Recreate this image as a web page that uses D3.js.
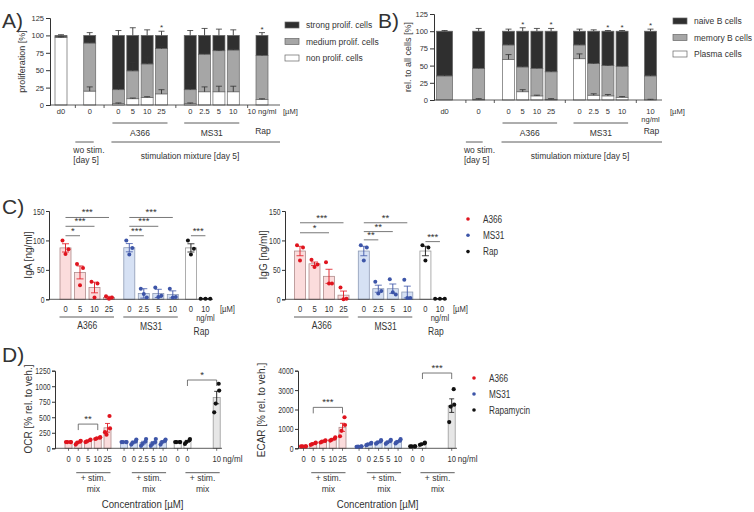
<!DOCTYPE html>
<html><head><meta charset="utf-8">
<script src="https://cdn.jsdelivr.net/npm/d3@7"></script>
<style>
body{margin:0;background:#fff}
svg{font-family:"Liberation Sans",Arial,sans-serif}
text{fill:#333}
</style></head><body><div id="fig"></div><script>
const width = 754, height = 512;
const ink = "#333";

// A) proliferation [%], stacked: non / medium / strong
const prolifCats = ["d0","0","0","5","10","25","0","2.5","5","10","10 ng/ml"];
const prolifNon    = [97, 20,  2,  9, 11, 16,  2, 19, 19, 19,  8];
const prolifMedium = [ 1, 69, 20, 40, 48, 65, 20, 54, 59, 60, 63];
const prolifStrong = [ 2, 11, 78, 51, 41, 19, 78, 27, 22, 21, 29];
const prolifNonErr    = [1, 6, 1, 1, 1, 6, 1, 7, 8, 8, 1];
const prolifMediumErr = [0, 3, 7, 12, 10, 3, 7, 2, 1, 2, 5];
const prolifStrongErr = [1, 4, 7, 11, 8, 6, 7, 10, 9, 8, 4];
const prolifStars = ["", "", "", "", "", "*", "", "", "", "", "*"];

// B) rel. to all cells [%], stacked: plasma / memory / naive
const bcellCats = ["d0","0","0","5","10","25","0","2.5","5","10","10"];
const bcellPlasma = [ 0,  1, 59, 12,  6,  1, 60,  7,  6,  4,  0];
const bcellMemory = [35, 45, 21, 36, 40, 40, 20, 46, 44, 45, 35];
const bcellNaive  = [65, 54, 20, 52, 54, 59, 20, 47, 50, 51, 65];
const bcellPlasmaErr = [0, 1, 7, 3, 1, 1, 7, 2, 2, 1, 1];
const bcellMemoryErr = [2, 5, 4, 3, 5, 3, 4, 1, 1, 1, 2];
const bcellNaiveErr  = [1, 4, 3, 5, 4, 4, 3, 2, 1, 1, 3];
const bcellStars = ["", "", "", "*", "", "*", "", "", "*", "*", "*"];

// C) ELISA, 3 donors each
const elisaCats  = ["0","5","10","25","0","2.5","5","10","0","10"];
const elisaGroup = ["A366","A366","A366","A366","MS31","MS31","MS31","MS31","Rap","Rap"];
const igaPoints = [[100,85,77],[60,53,24],[30,27,3],[5,3,1],[100,87,76],[18,3,9],[20,6,4],[18,4,3],[100,86,76],[1,1,1]];
const igaSem    = [7, 11, 9, 2, 7, 8, 7, 6, 7, 0.5];
const iggPoints = [[92,88,66],[67,59,55],[63,27,27],[20,1,0],[92,88,66],[30,14,10],[34,8,12],[33,2,2],[92,88,66],[1,1,1]];
const iggSem    = [8, 3, 12, 7, 8, 6, 8, 10, 8, 0.3];
const igaSig = [[0,1,"*",108],[0,2,"***",124],[0,3,"***",139],[4,5,"***",108],[4,6,"***",124],[4,7,"***",139],[8,9,"***",108]];
const iggSig = [[0,2,"*",113],[0,3,"***",130],[4,5,"**",101],[4,6,"**",115],[4,7,"**",130],[8,9,"***",98]];

// D) Seahorse, 4 donors each
const seaCats  = ["0","0","5","10","25","0","0","2.5","5","10","0","0","10"];
const seaGroup = ["A366","A366","A366","A366","A366","MS31","MS31","MS31","MS31","MS31","Rap","Rap","Rap"];
const ocrPoints = [[100,100,100,100],[60,110,90,120],[100,130,110,140],[150,170,160,180],[260,520,220,320],
                   [100,100,100,100],[60,110,90,140],[40,110,70,150],[40,100,70,150],[60,120,100,140],
                   [100,100,100,100],[70,130,100,150],[580,1040,720,930]];
const ocrSem  = [3, 15, 10, 8, 70, 3, 15, 20, 20, 15, 3, 15, 100];
const ecarPoints = [[100,100,100,100],[180,260,220,300],[300,380,340,410],[400,500,440,560],[620,1600,900,1200],
                    [80,90,90,100],[160,240,200,280],[240,360,300,420],[230,380,300,430],[250,400,320,470],
                    [100,100,100,100],[180,250,210,290],[1350,3050,2150,2250]];
const ecarSem = [5, 25, 25, 35, 210, 5, 25, 40, 45, 45, 5, 25, 350];
const ocrSig  = [[1,3,"**",390],[11,12,"*",1100]];
const ecarSig = [[1,4,"***",2110],[11,12,"***",3880]];

const groupColor = {A366: "#e0141e", MS31: "#3d55a8", Rap: "#111"};
const groupFill  = {A366: "#fbdcdc", MS31: "#d6e1f4", Rap: "#ffffff"};
const groupEdge  = {A366: "#b08c8c", MS31: "#8d9ab5", Rap: "#999"};

const svg = d3.select("#fig").append("svg").attr("width", width).attr("height", height);

function txt(g, x, y, s, size, anchor) {
  return g.append("text").attr("x", x).attr("y", y).attr("font-size", size)
    .attr("text-anchor", anchor || "middle").text(s);
}
// the C/D panels of the figure are squeezed sideways, so squeeze some text too
function condense(sel, k) {
  sel.each(function () {
    const w = this.getComputedTextLength();
    d3.select(this).attr("textLength", w * k).attr("lengthAdjust", "spacingAndGlyphs");
  });
}
function hline(g, x1, x2, y, col) {
  g.append("line").attr("x1", x1).attr("x2", x2).attr("y1", y).attr("y2", y)
    .attr("stroke", col || ink).attr("stroke-width", 0.8);
}
function yAxis(g, y, x, ticks, size, tick, k) {
  const ax = g.append("g").attr("transform", `translate(${x},0)`)
    .call(d3.axisLeft(y).tickValues(ticks).tickSize(tick || 4).tickPadding(tick ? 1.5 : 2).tickFormat(d3.format("d")));
  ax.selectAll("path,line").attr("stroke", ink);
  ax.selectAll("text").attr("font-size", size).attr("fill", ink).attr("font-family", null);
  if (k) condense(ax.selectAll("text"), k);
}
function yLabel(g, x, y, s, size) {
  g.append("text").attr("transform", `translate(${x},${y}) rotate(-90)`)
    .attr("font-size", size).attr("text-anchor", "middle").text(s);
}

// ---------- stacked bar panels (A, B) ----------
function stackedPanel(cfg) {
  const g = svg.append("g");
  const rows = cfg.cats.map((c, i) => {
    const r = {i: i};
    cfg.keys.forEach((k, j) => r[k] = cfg.values[j][i]);
    return r;
  });
  const series = d3.stack().keys(cfg.keys)(rows);
  const x = d3.scaleLinear().domain(cfg.slotDomain).range(cfg.xRange);
  const y = d3.scaleLinear().domain([0, 125]).range(cfg.yRange);
  const bw = i => (cfg.wide && cfg.wide.includes(i)) ? 16 : 12;

  series.forEach((s, j) => {
    g.selectAll(null).data(s).join("rect")
      .attr("x", d => x(cfg.slots[d.data.i]) - bw(d.data.i) / 2)
      .attr("width", d => bw(d.data.i))
      .attr("y", d => y(d[1]))
      .attr("height", d => y(d[0]) - y(d[1]))
      .attr("fill", cfg.fills[j]).attr("stroke", "#666").attr("stroke-width", 0.7);
  });
  series.forEach((s, j) => {
    s.forEach(d => {
      const e = cfg.errs[j][d.data.i];
      if (!e) return;
      const cx = x(cfg.slots[d.data.i]);
      g.append("line").attr("x1", cx).attr("x2", cx).attr("y1", y(d[1])).attr("y2", y(d[1] + e))
        .attr("stroke", ink).attr("stroke-width", 0.9);
      hline(g, cx - 3, cx + 3, y(d[1] + e));
    });
  });
  const last = series[series.length - 1];
  last.forEach(d => {
    const st = cfg.stars[d.data.i];
    if (st) txt(g, x(cfg.slots[d.data.i]), y(d[1] + cfg.errs[cfg.keys.length - 1][d.data.i]) - 1, st, 8);
  });

  yAxis(g, y, cfg.axisX, [0, 25, 50, 75, 100, 125], 7.5);
  hline(g, cfg.axisX, cfg.axisEnd, y(0));
  cfg.seps.forEach(s => g.append("line").attr("x1", x(s)).attr("x2", x(s))
    .attr("y1", y(0)).attr("y2", y(0) + 3).attr("stroke", ink).attr("stroke-width", 0.8));
  cfg.cats.forEach((c, i) => {
    if (cfg.twoLine && i === cfg.cats.length - 1) {
      txt(g, x(cfg.slots[i]), 114, c, 7.5);
      txt(g, x(cfg.slots[i]), 122, "ng/ml", 7.5);
    } else txt(g, x(cfg.slots[i]), 114, c, 7.5);
  });
  txt(g, cfg.umX, 114, "[µM]", 7.5, "start");
  // group labels
  hline(g, x(cfg.slots[2]) - 6, x(cfg.slots[5]) + 6, 123);
  hline(g, x(cfg.slots[6]) - 6, x(cfg.slots[9]) + 6, 123);
  txt(g, (x(cfg.slots[2]) + x(cfg.slots[5])) / 2, 136, "A366", 8.5);
  txt(g, (x(cfg.slots[6]) + x(cfg.slots[9])) / 2, 136, "MS31", 8.5);
  txt(g, x(cfg.slots[10]) + 1, 134, "Rap", 8.5);
  hline(g, x(cfg.seps[0]), x(cfg.slots[1]) + 4, 142);
  hline(g, x(cfg.slots[2]) - 7, cfg.axisEnd, 142);
  txt(g, x(cfg.seps[0]) - 2, 153, "wo stim.", 8.5, "start");
  txt(g, x(cfg.seps[0]) - 2, 163, "[day 5]", 8.5, "start");
  txt(g, cfg.stimX, 159, "stimulation mixture [day 5]", 8.5);

  yLabel(g, cfg.labX, (cfg.yRange[0] + cfg.yRange[1]) / 2, cfg.ylab, 9);
  cfg.legend.forEach((l, k) => {
    const ly = cfg.legY + k * 16.5;
    g.append("rect").attr("x", cfg.legX).attr("y", ly - 3).attr("width", 14).attr("height", 6)
      .attr("fill", l[1]).attr("stroke", "#666").attr("stroke-width", 0.7);
    txt(g, cfg.legX + 21, ly + 3, l[0], 8.5, "start");
  });
  txt(g, cfg.tagX, 28, cfg.tag, 21, "start").attr("fill", "#111");
}

stackedPanel({
  cats: prolifCats, keys: ["non", "medium", "strong"],
  values: [prolifNon, prolifMedium, prolifStrong],
  errs: [prolifNonErr, prolifMediumErr, prolifStrongErr],
  stars: prolifStars, fills: ["#fff", "#a6a6a6", "#2f2f2f"],
  slots: [0, 2, 4, 5, 6, 7, 9, 10, 11, 12, 14], slotDomain: [0, 14], xRange: [61, 262],
  yRange: [105, 18], axisX: 50, axisEnd: 280, seps: [1, 3, 8, 13], umX: 283, stimX: 190,
  labX: 25, ylab: "proliferation [%]", legX: 285, legY: 25,
  legend: [["strong prolif. cells", "#2f2f2f"], ["medium prolif. cells", "#a6a6a6"], ["non prolif. cells", "#fff"]],
  tag: "A)", tagX: 2
});
stackedPanel({
  cats: bcellCats, keys: ["plasma", "memory", "naive"],
  values: [bcellPlasma, bcellMemory, bcellNaive],
  errs: [bcellPlasmaErr, bcellMemoryErr, bcellNaiveErr],
  stars: bcellStars, fills: ["#fff", "#a6a6a6", "#2f2f2f"], wide: [0], twoLine: true,
  slots: [0, 2.4, 4.5, 5.5, 6.5, 7.5, 9.5, 10.5, 11.5, 12.5, 14.5], slotDomain: [4.5, 14.5], xRange: [508.5, 650.5],
  yRange: [100, 14], axisX: 434, axisEnd: 662, seps: [1.5, 3.5, 8.5, 13.5], umX: 670, stimX: 580,
  labX: 411, ylab: "rel. to all cells [%]", legX: 673, legY: 21,
  legend: [["naive B cells", "#2f2f2f"], ["memory B cells", "#a6a6a6"], ["Plasma cells", "#fff"]],
  tag: "B)", tagX: 378
});

// ---------- dot + bar panels (C, D) ----------
function dotBarPanel(cfg) {
  const g = svg.append("g");
  const x = d3.scaleLinear().domain([0, 1]).range([cfg.x0, cfg.x0 + cfg.step]);
  const y = d3.scaleLinear().domain(cfg.yDomain).range(cfg.yRange);
  const means = cfg.points.map(p => d3.mean(p));
  const n = cfg.points[0].length;
  const offs = n === 3 ? [-3, 3, 0] : [-2.5, 2, -1, 2.5];

  means.forEach((m, i) => {
    const cx = x(cfg.slots[i]), grp = cfg.groups[i];
    g.append("rect").attr("x", cx - cfg.barW / 2).attr("width", cfg.barW)
      .attr("y", y(m)).attr("height", y(0) - y(m))
      .attr("fill", cfg.greyLast && i === means.length - 1 ? "#e6e6e6" : groupFill[grp])
      .attr("stroke", groupEdge[grp]).attr("stroke-width", 0.8);
  });
  yAxis(g, y, cfg.axisX, cfg.ticks, cfg.fs, 3, 0.72);
  hline(g, cfg.axisX, cfg.axisEnd, y(0));
  if (cfg.xTicks) cfg.slots.forEach(s => g.append("line").attr("x1", x(s)).attr("x2", x(s))
    .attr("y1", y(0)).attr("y2", y(0) + 2.5).attr("stroke", ink).attr("stroke-width", 0.7));

  cfg.points.forEach((pts, i) => {
    const cx = x(cfg.slots[i]), col = groupColor[cfg.groups[i]];
    const sp = i === cfg.points.length - 1 && n === 3 ? 1.6 : cfg.spread;
    g.selectAll(null).data(pts).join("circle")
      .attr("cx", (d, k) => cx + offs[k] * sp).attr("cy", d => y(d)).attr("r", cfg.r).attr("fill", col);
    const m = means[i], e = cfg.sem[i];
    g.append("line").attr("x1", cx).attr("x2", cx).attr("y1", y(m - e)).attr("y2", y(m + e))
      .attr("stroke", col).attr("stroke-width", 0.9);
    hline(g, cx - cfg.cap, cx + cfg.cap, y(m - e), col);
    hline(g, cx - cfg.cap, cx + cfg.cap, y(m + e), col);
  });

  cfg.sig.forEach(([a, b, s, v]) => {
    const yy = y(v);
    if (cfg.legs) {
      g.append("path").attr("d", `M${x(cfg.slots[a])},${yy + 6}V${yy}H${x(cfg.slots[b])}V${yy + 6}`)
        .attr("fill", "none").attr("stroke", "#555").attr("stroke-width", 0.8);
    } else hline(g, x(cfg.slots[a]), x(cfg.slots[b]), yy, "#555");
    txt(g, (x(cfg.slots[a]) + x(cfg.slots[b])) / 2, yy - 2, s, cfg.fs);
  });

  const xl = g.append("g");
  cfg.cats.forEach((c, i) => txt(xl, x(cfg.slots[i]), cfg.labY, c, cfg.fs));
  condense(xl.selectAll("text"), 0.8);
  yLabel(g, cfg.labX, cfg.labMid, cfg.ylab, 10);
  cfg.legend.forEach((l, k) => {
    const ly = cfg.legY + k * cfg.legStep;
    g.append("circle").attr("cx", cfg.legX).attr("cy", ly).attr("r", 1.8).attr("fill", groupColor[l[1]]);
    condense(txt(g, cfg.legX + 15, ly + 3.5, l[0], 10, "start"), 0.82);
  });
  return {g: g, x: x};
}

const cLeft = dotBarPanel({
  cats: elisaCats, groups: elisaGroup, points: igaPoints, sem: igaSem, sig: igaSig,
  slots: [0, 1, 2, 3, 4.4, 5.4, 6.4, 7.4, 8.65, 9.65], x0: 65.5, step: 14.5, barW: 11,
  yDomain: [0, 150], yRange: [299.3, 211], ticks: [0, 50, 100, 150], axisX: 49, axisEnd: 213,
  fs: 9.5, r: 2, spread: 1, cap: 3.5, labY: 311.5, labX: 32, labMid: 255, ylab: "IgA [ng/ml]", legend: []
});
const cRight = dotBarPanel({
  cats: elisaCats, groups: elisaGroup, points: iggPoints, sem: iggSem, sig: iggSig,
  slots: [0, 1, 2, 3, 4.4, 5.4, 6.4, 7.4, 8.65, 9.65], x0: 300, step: 14.5, barW: 11,
  yDomain: [0, 150], yRange: [299.3, 211], ticks: [0, 50, 100, 150], axisX: 285, axisEnd: 447,
  fs: 9.5, r: 2, spread: 1, cap: 3.5, labY: 311.5, labX: 267, labMid: 255, ylab: "IgG [ng/ml]",
  legend: [["A366", "A366"], ["MS31", "MS31"], ["Rap", "Rap"]], legX: 468, legY: 219, legStep: 16.3
});
[[cLeft, 220], [cRight, 453]].forEach(([p, um]) => {
  const g = p.g, x = p.x, s = [0, 1, 2, 3, 4.4, 5.4, 6.4, 7.4, 8.65, 9.65];
  condense(txt(g, x(s[9]), 321, "ng/ml", 9.5), 0.8);
  condense(txt(g, um, 311.5, "[µM]", 9.5, "start"), 0.8);
  hline(g, x(s[0]) - 6, x(s[3]) + 5, 317);
  hline(g, x(s[4]) - 6, x(s[7]) + 5, 317);
  condense(txt(g, (x(s[0]) + x(s[3])) / 2, 329, "A366", 10), 0.85);
  condense(txt(g, (x(s[4]) + x(s[7])) / 2, 330, "MS31", 10), 0.85);
  condense(txt(g, x(s[9]) - 4, 335, "Rap", 10), 0.85);
});
txt(svg, 2, 214, "C)", 21, "start").attr("fill", "#111");

const seaSlots = [0, 1, 2, 3, 4, 5.7, 6.7, 7.7, 8.7, 9.7, 11.2, 12.2, 15.2];
const dLeft = dotBarPanel({
  cats: seaCats, groups: seaGroup, points: ocrPoints, sem: ocrSem, sig: ocrSig, legs: true, greyLast: true, xTicks: true,
  slots: seaSlots, x0: 68.5, step: 9.75, barW: 7,
  yDomain: [0, 1250], yRange: [448.3, 370.7], ticks: [0, 250, 500, 750, 1000, 1250], axisX: 55, axisEnd: 222,
  fs: 9.5, r: 2.1, spread: 1, cap: 2.5, labY: 461.5, labX: 32, labMid: 409, ylab: "OCR [% rel. to veh.]", legend: []
});
const dRight = dotBarPanel({
  cats: seaCats, groups: seaGroup, points: ecarPoints, sem: ecarSem, sig: ecarSig, legs: true, greyLast: true, xTicks: true,
  slots: seaSlots, x0: 303.5, step: 9.75, barW: 7,
  yDomain: [0, 4000], yRange: [448.3, 370.7], ticks: [0, 1000, 2000, 3000, 4000], axisX: 298, axisEnd: 457,
  fs: 9.5, r: 2.1, spread: 1, cap: 2.5, labY: 461.5, labX: 265, labMid: 410, ylab: "ECAR [% rel. to veh.]",
  legend: [["A366", "A366"], ["MS31", "MS31"], ["Rapamycin", "Rap"]], legX: 474, legY: 378, legStep: 16
});
[dLeft, dRight].forEach(p => {
  const g = p.g, x = p.x;
  condense(txt(g, x(seaSlots[12]) + 6, 461.5, "ng/ml", 9.5, "start"), 0.85);
  [[1, 4], [6, 9], [11, 12]].forEach(([a, b]) => {
    const x1 = x(seaSlots[a]) - 2, x2 = x(seaSlots[b]) + 3;
    hline(g, x1, x2, 472.7);
    condense(txt(g, (x1 + x2) / 2, 480.5, "+ stim.", 9.5), 0.9);
    condense(txt(g, (x1 + x2) / 2, 491.5, "mix", 9.5), 0.9);
  });
  condense(txt(g, (x(seaSlots[0]) + x(seaSlots[12])) / 2, 508, "Concentration [µM]", 10.5), 0.92);
});
txt(svg, 2, 362, "D)", 21, "start").attr("fill", "#111");
</script></body></html>
